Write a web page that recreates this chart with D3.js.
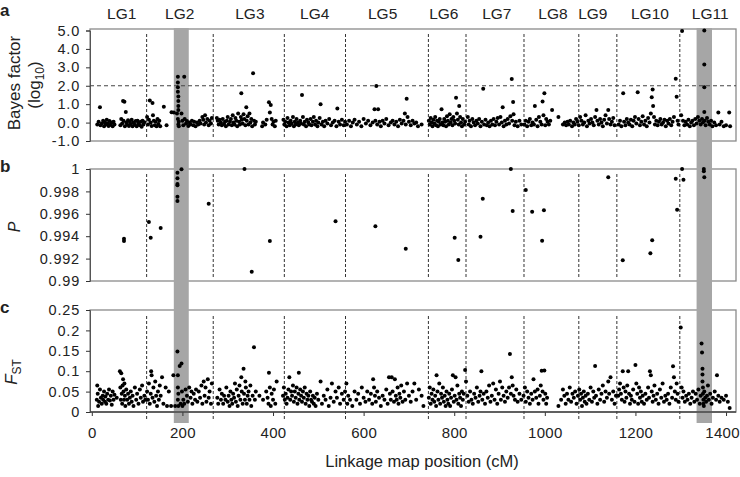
<!DOCTYPE html>
<html>
<head>
<meta charset="utf-8">
<script src="https://cdn.jsdelivr.net/npm/d3@7"></script>
<style>
body { margin: 0; background: #fff; }
text { font-family: "Liberation Sans", Arial, sans-serif; fill: #222; }
</style>
</head>
<body>
<svg width="740" height="477"></svg>
<script>
// linkage groups
const lgNames = ["LG1","LG2","LG3","LG4","LG5","LG6","LG7","LG8","LG9","LG10","LG11"];
const lgLabelPos = [66,194,349,492,642,777,894,1018,1106,1232,1365];
const lgBounds = [121,268,425,560,743,826,954,1075,1159,1298];
const outlierBands = [[181,214],[1335,1369]];

const xTicks = [0,200,400,600,800,1000,1200,1400];
const bayesTicks = [5,4,3,2,1,0,-1];
const pTicks = [1,0.998,0.996,0.994,0.992,0.99];
const fstTicks = [0.25,0.2,0.15,0.1,0.05,0];
const bayesThreshold = 2;

// panel a : Bayes factor (log10), [cM, value]
const bayes = [
[12,-0.1],[15,0.05],[18,0.83],[19,-0.15],[22,-0.05],[25,0.1],[27,-0.2],[29,0.0],[31,-0.1],[33,0.15],[35,-0.05],[37,-0.18],[39,0.08],[41,-0.12],[44,0.0],[46,-0.2],[48,0.05],[50,-0.1],
[63,-0.15],[65,0.2],[67,-0.05],[69,1.17],[70,0.1],[72,1.13],[73,-0.2],[75,0.58],[76,0.0],[78,-0.1],[80,0.12],[82,-0.18],[84,0.05],[86,-0.08],[88,0.15],[90,-0.2],[92,0.0],[95,-0.12],[97,0.08],[99,-0.2],[101,0.1],[103,-0.05],[106,-0.15],[108,0.05],[110,-0.22],[112,0.1],[114,-0.1],[116,0.02],
[122,0.3],[124,-0.1],[126,0.15],[128,1.2],[130,0.0],[132,-0.18],[134,1.06],[135,0.4],[137,0.1],[139,-0.15],[141,0.05],[143,-0.2],[145,0.2],[147,-0.08],[149,0.1],[151,-0.2],[159,0.86],[165,-0.15],[176,0.56],[181,0.55],[188,0.5],
[190,2.49],[190,2.17],[190,1.92],[190,1.68],[191,1.41],[191,1.17],[191,0.9],[191,0.68],[190,0.2],[191,-0.1],[192,0.05],[192,-0.2],[204,2.49],[198,0.5],[200,0.1],[202,-0.15],[205,0.2],[208,-0.05],[210,0.08],[213,-0.18],
[216,0.0],[218,-0.1],[221,0.1],[224,-0.15],[226,0.05],[229,-0.2],[232,0.0],[235,-0.1],[238,0.1],[240,-0.05],[244,0.3],[246,0.15],[248,-0.1],[250,0.4],[252,0.0],[255,0.2],[258,-0.15],[260,0.1],[263,-0.05],[265,0.25],
[276,0.25],[278,0.1],[280,-0.1],[282,0.15],[285,0.0],[287,-0.15],[289,0.2],[292,-0.08],[294,0.05],[296,-0.2],[298,0.1],[300,0.3],[302,-0.1],[305,0.05],[307,0.2],[309,-0.15],[311,0.4],[313,0.0],[315,-0.1],[317,0.25],[319,0.1],[321,-0.2],[323,0.5],[325,0.05],[327,-0.1],[329,0.3],[330,1.59],[331,0.15],[333,-0.05],[335,0.45],[337,0.2],[339,-0.15],[341,0.83],[342,0.1],[344,0.35],[346,-0.1],[348,0.5],[350,0.0],[352,0.2],[354,-0.2],[356,2.68],[358,0.1],[360,-0.1],[362,0.05],
[376,-0.2],[378,0.0],[383,-0.1],[386,0.15],[391,1.1],[393,0.55],[395,0.95],[397,0.2],[399,-0.1],[401,0.05],[404,-0.2],[406,0.1],
[423,0.15],[425,-0.1],[427,0.05],[430,-0.2],[432,0.25],[434,0.0],[437,-0.15],[439,0.1],[441,-0.05],[444,0.3],[446,-0.2],[448,0.05],[450,-0.1],[452,0.2],[455,0.0],[457,-0.15],[460,0.1],[462,-0.05],[464,1.5],[466,0.3],[468,-0.1],[470,0.05],[473,-0.2],[475,0.15],[478,0.0],[480,-0.1],[483,0.2],[485,-0.15],[488,0.05],[490,0.3],[493,-0.1],[495,0.1],[498,-0.2],[500,0.0],[503,0.25],[505,0.99],[507,-0.1],[510,0.05],[513,-0.2],[516,0.1],[520,-0.05],[524,0.2],[528,-0.15],[532,0.0],[536,0.1],[540,-0.2],[542,0.76],[545,0.05],[548,-0.1],[552,0.15],[556,-0.15],[559,0.05],
[563,-0.1],[568,0.1],[572,-0.2],[576,0.0],[580,0.15],[585,-0.1],[590,0.05],[595,-0.2],[600,0.2],[605,-0.05],[610,0.1],[615,-0.15],[620,0.0],[624,0.73],[626,0.1],[628,1.99],[630,-0.1],[632,0.73],[635,0.05],[638,-0.2],[642,0.1],[646,-0.05],[650,0.2],[655,-0.15],[660,0.0],[664,0.1],[668,-0.1],[672,0.05],[676,-0.2],[680,0.15],[684,-0.05],[688,0.1],[691,0.5],[693,-0.1],[695,1.3],[697,0.3],[700,0.05],[704,-0.15],[708,0.1],[712,-0.05],[716,0.0],[720,-0.2],[728,-0.1],
[744,0.1],[746,-0.1],[748,0.25],[750,0.0],[752,-0.2],[754,0.15],[756,-0.05],[758,0.3],[760,-0.15],[762,0.1],[764,-0.2],[766,0.05],[768,0.2],[770,-0.1],[772,0.72],[774,0.0],[776,-0.15],[778,0.2],[780,0.05],[782,-0.2],[784,0.35],[786,0.1],[788,-0.1],[790,0.45],[792,0.0],[794,0.2],[796,-0.15],[798,0.3],[800,0.1],[802,-0.05],[804,1.35],[806,0.5],[808,0.15],[810,-0.1],[811,0.9],[813,0.3],[815,0.0],[817,-0.2],[819,0.2],[822,-0.1],[824,0.05],
[830,0.3],[832,-0.1],[834,0.1],[837,-0.2],[840,0.2],[843,0.0],[846,-0.15],[849,0.1],[852,-0.05],[855,0.2],[858,-0.2],[861,0.05],[864,1.84],[866,-0.1],[869,0.15],[872,-0.15],[875,0.0],[878,-0.2],[881,0.1],[884,-0.1],[887,0.2],[890,-0.15],[893,0.05],[896,0.25],[899,-0.1],[902,0.3],[905,0.0],[907,0.83],[909,-0.2],[912,0.1],[915,-0.1],[918,0.2],[921,-0.05],[924,0.35],[927,2.37],[928,0.1],[930,1.12],[931,0.45],[933,-0.15],[936,0.05],[940,-0.2],[944,0.1],[948,-0.1],
[955,-0.1],[958,0.1],[961,-0.2],[964,0.05],[967,0.2],[970,-0.15],[973,0.0],[976,-0.1],[978,0.9],[981,0.15],[984,-0.2],[987,0.3],[990,0.05],[993,-0.1],[995,1.14],[997,0.4],[999,1.59],[1001,-0.15],[1003,0.2],[1006,0.05],[1009,-0.1],[1012,0.1],[1016,0.68],[1030,0.3],
[1040,-0.1],[1044,0.0],[1047,-0.15],[1050,0.05],[1053,-0.1],[1056,0.1],[1060,-0.2],[1063,0.0],[1066,-0.1],[1069,0.2],[1072,0.05],[1075,-0.15],[1078,0.3],[1081,0.1],[1084,-0.1],[1087,0.0],[1090,0.4],[1093,-0.2],[1096,0.1],[1099,-0.05],[1102,0.2],[1105,0.0],[1108,-0.15],[1111,0.3],[1114,0.68],[1116,0.1],[1119,-0.1],[1122,0.2],[1125,0.0],[1128,-0.2],[1131,0.15],[1134,0.4],[1137,-0.05],[1140,0.68],[1142,0.2],[1145,-0.1],[1148,0.05],[1151,0.25],[1154,-0.15],
[1163,-0.1],[1166,0.1],[1169,-0.2],[1173,1.59],[1175,0.05],[1178,-0.15],[1181,0.2],[1184,0.0],[1187,-0.1],[1190,0.15],[1193,-0.2],[1196,0.1],[1199,0.3],[1202,-0.05],[1205,1.65],[1207,0.2],[1210,-0.15],[1213,0.05],[1216,0.35],[1219,-0.1],[1222,0.1],[1225,-0.2],[1228,0.25],[1231,0.0],[1234,0.5],[1236,1.37],[1238,1.8],[1239,0.9],[1241,0.3],[1243,-0.1],[1246,0.1],[1249,-0.15],[1252,0.05],[1255,0.2],[1258,-0.1],[1261,0.0],[1264,0.15],[1267,-0.2],[1270,0.1],[1273,-0.05],[1276,0.2],[1279,-0.15],[1282,0.05],[1285,0.3],[1289,2.38],[1291,1.4],[1293,0.1],[1295,-0.1],
[1303,4.97],[1301,0.4],[1305,0.1],[1308,-0.15],[1311,0.05],[1314,-0.1],[1317,0.15],[1320,-0.2],[1323,0.0],[1326,0.1],[1329,-0.15],[1332,0.2],[1335,-0.05],[1338,0.3],[1341,0.1],[1344,-0.1],[1347,0.2],[1349,0.0],[1352,5.0],[1352,3.16],[1352,1.92],[1352,0.58],[1353,0.1],[1355,-0.15],[1358,0.25],[1361,0.05],[1364,-0.1],[1367,0.1],[1370,-0.2],[1374,0.0],[1378,-0.15],[1383,0.55],[1386,-0.1],[1390,0.05],[1395,-0.2],[1400,-0.15],[1407,0.55],[1409,-0.2]
];

// panel b : posterior probability P, [cM, value]
const probP = [
[71,0.99378],[71,0.99357],[126,0.99527],[130,0.99387],[152,0.99473],
[189,0.99967],[189,0.99917],[189,0.99866],[189,0.99856],[189,0.99753],[189,0.99714],[198,0.99997],
[258,0.9969],[337,1.0],[353,0.99083],[393,0.99357],[538,0.99533],[626,0.99488],[693,0.99289],
[801,0.99387],[809,0.99188],[858,0.99396],[863,0.99735],[925,1.0],[929,0.99625],[958,0.99812],[972,0.99619],[994,0.9936],[998,0.99631],
[1140,0.99926],[1172,0.99185],[1233,0.99247],[1237,0.99363],[1289,0.99914],[1292,0.99637],[1303,1.0],[1306,0.99905],
[1351,1.0],[1351,0.9998],[1352,0.99926]
];

// panel c : FST, [cM, value]
const fst = [
[11,0.03],[12,0.065],[13,0.045],[14,0.015],[16,0.025],[18,0.055],[20,0.035],[22,0.02],[24,0.04],[25,0.03],[27,0.05],[29,0.025],[30,0.038],[32,0.02],[34,0.045],[36,0.03],[38,0.055],[40,0.028],[42,0.04],[44,0.018],[46,0.05],[48,0.03],[50,0.042],[55,0.035],
[62,0.1],[63,0.06],[64,0.03],[65,0.095],[66,0.045],[67,0.02],[68,0.065],[69,0.08],[70,0.05],[71,0.03],[72,0.07],[73,0.04],[74,0.015],[76,0.055],[78,0.03],[80,0.045],[82,0.02],[84,0.035],[86,0.05],[88,0.025],[90,0.04],[92,0.015],[95,0.06],[98,0.03],[100,0.045],[103,0.02],[106,0.055],[108,0.035],[111,0.065],[113,0.025],[116,0.04],[118,0.03],
[122,0.05],[124,0.03],[126,0.07],[128,0.02],[130,0.045],[131,0.1],[132,0.09],[134,0.035],[136,0.06],[138,0.025],[140,0.075],[142,0.04],[144,0.015],[146,0.05],[148,0.03],[150,0.065],[152,0.04],[155,0.085],[158,0.02],[163,0.06],[166,0.015],[170,0.05],[175,0.015],[180,0.09],[184,0.015],
[189,0.148],[190,0.06],[190,0.09],[190,0.03],[191,0.045],[191,0.015],[194,0.113],[196,0.02],[198,0.119],[199,0.05],[200,0.015],[202,0.03],[204,0.02],[207,0.055],[210,0.04],[212,0.025],[215,0.06],[218,0.035],[220,0.05],[222,0.02],[225,0.045],[228,0.03],[230,0.055],[233,0.025],[236,0.05],[239,0.035],[242,0.065],[244,0.02],[247,0.075],[249,0.04],[251,0.06],[253,0.025],[256,0.08],[258,0.035],[260,0.05],[263,0.02],[265,0.07],
[277,0.035],[279,0.02],[282,0.055],[285,0.03],[287,0.045],[290,0.02],[292,0.04],[295,0.03],[297,0.06],[300,0.025],[302,0.04],[304,0.015],[306,0.05],[308,0.03],[310,0.02],[312,0.045],[314,0.035],[316,0.07],[318,0.025],[320,0.055],[322,0.015],[324,0.04],[326,0.065],[328,0.03],[330,0.085],[331,0.05],[333,0.02],[335,0.106],[336,0.045],[338,0.03],[339,0.075],[340,0.06],[342,0.02],[344,0.04],[346,0.05],[348,0.03],[350,0.065],[352,0.015],[355,0.04],[358,0.159],[360,0.03],[362,0.05],[370,0.04],[378,0.03],[385,0.05],[388,0.035],[390,0.02],[391,0.096],[393,0.06],[395,0.015],[397,0.045],[400,0.03],[402,0.055],[405,0.02],[408,0.075],
[422,0.04],[424,0.06],[426,0.03],[428,0.045],[430,0.02],[432,0.035],[434,0.055],[436,0.085],[438,0.03],[440,0.05],[442,0.04],[444,0.065],[446,0.025],[448,0.05],[450,0.035],[452,0.06],[454,0.02],[456,0.045],[457,0.096],[458,0.03],[460,0.055],[462,0.04],[464,0.025],[466,0.05],[468,0.035],[470,0.06],[472,0.02],[474,0.045],[476,0.03],[478,0.04],[480,0.015],[482,0.05],[484,0.03],[486,0.025],[488,0.04],[490,0.02],[492,0.035],[494,0.015],[497,0.045],[500,0.03],[505,0.075],[508,0.02],[512,0.04],[516,0.03],[520,0.055],[523,0.015],[527,0.035],[530,0.07],[534,0.025],[538,0.05],[541,0.035],[545,0.06],[548,0.02],[552,0.045],[556,0.03],[559,0.05],
[562,0.07],[564,0.02],[566,0.04],[570,0.03],[575,0.015],[580,0.05],[584,0.03],[588,0.045],[592,0.02],[596,0.06],[600,0.035],[604,0.025],[608,0.05],[612,0.03],[616,0.045],[619,0.02],[621,0.08],[623,0.06],[625,0.04],[627,0.025],[630,0.05],[634,0.035],[638,0.015],[642,0.04],[646,0.03],[650,0.055],[653,0.02],[656,0.085],[658,0.045],[660,0.03],[662,0.085],[664,0.05],[667,0.025],[669,0.08],[671,0.04],[673,0.03],[675,0.06],[677,0.02],[679,0.045],[681,0.035],[683,0.065],[686,0.025],[689,0.05],[692,0.03],[696,0.07],[700,0.04],[704,0.025],[708,0.05],[712,0.07],[716,0.03],[722,0.055],[728,0.04],[732,0.015],
[744,0.035],[746,0.06],[748,0.02],[750,0.045],[752,0.03],[754,0.055],[756,0.025],[758,0.04],[760,0.015],[761,0.09],[763,0.05],[765,0.03],[767,0.07],[769,0.02],[771,0.045],[773,0.035],[775,0.06],[777,0.025],[779,0.04],[781,0.015],[783,0.05],[785,0.03],[787,0.02],[789,0.045],[791,0.015],[793,0.035],[795,0.055],[797,0.09],[799,0.025],[801,0.04],[803,0.085],[805,0.03],[807,0.065],[809,0.02],[811,0.045],[813,0.035],[815,0.015],[817,0.05],[819,0.03],[821,0.045],[824,0.103],[826,0.075],
[829,0.04],[832,0.025],[835,0.05],[838,0.03],[841,0.02],[844,0.045],[847,0.035],[850,0.06],[853,0.025],[856,0.04],[858,0.05],[860,0.1],[862,0.03],[865,0.045],[868,0.02],[871,0.05],[874,0.035],[877,0.065],[880,0.025],[883,0.04],[886,0.07],[889,0.03],[892,0.055],[895,0.02],[898,0.045],[901,0.075],[903,0.03],[906,0.06],[909,0.04],[912,0.025],[915,0.05],[918,0.035],[921,0.06],[923,0.142],[925,0.045],[927,0.085],[929,0.065],[931,0.04],[934,0.03],[937,0.055],[940,0.025],[944,0.045],[948,0.03],
[953,0.04],[956,0.06],[958,0.025],[961,0.05],[964,0.035],[967,0.02],[970,0.045],[973,0.03],[975,0.08],[978,0.05],[981,0.035],[984,0.055],[986,0.02],[989,0.04],[991,0.065],[993,0.101],[995,0.05],[997,0.03],[999,0.102],[1001,0.045],[1003,0.02],[1005,0.035],[1030,0.015],[1036,0.03],
[1040,0.055],[1043,0.04],[1046,0.02],[1049,0.045],[1052,0.03],[1055,0.06],[1058,0.025],[1061,0.045],[1064,0.035],[1067,0.05],[1070,0.02],[1073,0.04],[1076,0.055],[1078,0.03],[1080,0.045],[1082,0.015],[1084,0.035],[1086,0.05],[1088,0.025],[1090,0.04],[1092,0.02],[1095,0.045],[1098,0.03],[1101,0.06],[1104,0.025],[1107,0.05],[1109,0.035],[1111,0.113],[1113,0.04],[1116,0.02],[1119,0.055],[1122,0.03],[1125,0.045],[1128,0.065],[1131,0.025],[1134,0.05],[1137,0.035],[1140,0.075],[1142,0.045],[1145,0.085],[1148,0.03],[1151,0.05],[1154,0.02],[1157,0.04],
[1162,0.04],[1164,0.055],[1166,0.07],[1168,0.045],[1170,0.03],[1172,0.1],[1174,0.06],[1176,0.025],[1178,0.05],[1180,0.035],[1182,0.065],[1184,0.1],[1186,0.045],[1188,0.02],[1190,0.04],[1192,0.03],[1195,0.055],[1198,0.025],[1200,0.115],[1202,0.07],[1204,0.045],[1206,0.02],[1208,0.06],[1210,0.035],[1212,0.05],[1214,0.025],[1216,0.04],[1219,0.02],[1222,0.045],[1225,0.03],[1228,0.06],[1230,0.035],[1232,0.1],[1234,0.09],[1236,0.05],[1238,0.025],[1240,0.04],[1242,0.065],[1245,0.03],[1248,0.045],[1251,0.02],[1254,0.055],[1257,0.035],[1260,0.07],[1263,0.025],[1266,0.04],[1269,0.03],[1272,0.045],[1275,0.02],[1278,0.06],[1281,0.035],[1283,0.112],[1285,0.085],[1287,0.05],[1289,0.03],[1291,0.07],[1293,0.045],[1295,0.025],
[1300,0.207],[1302,0.06],[1304,0.035],[1306,0.05],[1309,0.025],[1312,0.04],[1315,0.03],[1318,0.045],[1321,0.02],[1324,0.035],[1327,0.05],[1330,0.025],[1333,0.045],[1336,0.03],[1339,0.055],[1342,0.02],[1344,0.04],[1346,0.168],[1347,0.146],[1348,0.106],[1348,0.092],[1348,0.075],[1349,0.06],[1349,0.045],[1350,0.03],[1350,0.02],[1351,0.015],[1352,0.05],[1354,0.035],[1356,0.025],[1358,0.04],[1360,0.065],[1362,0.03],[1365,0.045],[1368,0.02],[1371,0.035],[1375,0.05],[1378,0.03],[1380,0.09],[1383,0.04],[1386,0.025],[1390,0.035],[1395,0.03],[1400,0.04],[1404,0.025],[1408,0.01]
];

const svg = d3.select("svg");
const x = d3.scaleLinear().domain([-4, 1422]).range([90, 736]);

const panels = [
  {letter: "a", data: bayes, ticks: bayesTicks, fmt: d => d.toFixed(1),
   y: d3.scaleLinear().domain([-1, 5]).range([141, 30.5]), top: 29, bottom: 141, dash: [34, 138]},
  {letter: "b", data: probP, ticks: pTicks, fmt: d => String(d),
   y: d3.scaleLinear().domain([0.99, 1]).range([281, 169]), top: 169, bottom: 281, dash: [174, 277]},
  {letter: "c", data: fst, ticks: fstTicks, fmt: d => String(d),
   y: d3.scaleLinear().domain([0, 0.25]).range([412, 310]), top: 310, bottom: 412, dash: [316, 420]}
];
const letterY = [16, 172, 313];

// frames
panels.forEach((p, i) => {
  svg.append("rect")
    .attr("x", x.range()[0]).attr("y", p.top)
    .attr("width", x.range()[1] - x.range()[0]).attr("height", p.bottom - p.top)
    .attr("fill", "none").attr("stroke", "#8a8a8a").attr("stroke-width", 1.3);
});

// grey bands for outlier regions
svg.append("g").selectAll("rect")
  .data(outlierBands)
  .join("rect")
    .attr("x", d => x(d[0]))
    .attr("width", d => x(d[1]) - x(d[0]))
    .attr("y", 28).attr("height", 423 - 28)
    .attr("fill", "#a6a6a6");

panels.forEach((p, i) => {
  // y axis
  const ax = svg.append("g")
    .attr("transform", `translate(${x.range()[0]},0)`)
    .call(d3.axisLeft(p.y).tickValues(p.ticks).tickFormat(p.fmt).tickSize(4).tickPadding(6));
  ax.select(".domain").attr("stroke", "#555");
  ax.selectAll(".tick line").attr("stroke", "#333");
  ax.selectAll("text")
    .style("font-family", "'Liberation Sans', Arial, sans-serif")
    .style("font-size", "14.5px").style("letter-spacing", "0.8px").attr("fill", "#222");

  // linkage group boundaries
  svg.append("g").selectAll("line")
    .data(lgBounds)
    .join("line")
      .attr("x1", d => x(d)).attr("x2", d => x(d))
      .attr("y1", p.dash[0]).attr("y2", p.dash[1])
      .attr("stroke", "#333").attr("stroke-width", 1)
      .attr("stroke-dasharray", "3,2");

  svg.append("text")
    .attr("x", 0).attr("y", letterY[i])
    .style("font-weight", "bold").style("font-size", "17px")
    .attr("fill", "#000")
    .text(p.letter);
});

// significance threshold in panel a
svg.append("line")
  .attr("x1", x.range()[0]).attr("x2", x.range()[1])
  .attr("y1", panels[0].y(bayesThreshold)).attr("y2", panels[0].y(bayesThreshold))
  .attr("stroke", "#444").attr("stroke-dasharray", "4,3");

// points
panels.forEach(p => {
  svg.append("g").selectAll("circle")
    .data(p.data)
    .join("circle")
      .attr("cx", d => x(d[0]))
      .attr("cy", d => p.y(d[1]))
      .attr("r", 2)
      .attr("fill", "#000");
});

// x axis
const xa = svg.append("g")
  .attr("transform", "translate(0,412)")
  .call(d3.axisBottom(x).tickValues(xTicks).tickFormat(d3.format("d")).tickSize(4).tickPadding(11));
xa.select(".domain").remove();
xa.selectAll(".tick line").attr("stroke", "#333");
xa.selectAll("text")
  .style("font-family", "'Liberation Sans', Arial, sans-serif")
  .style("font-size", "15px").style("letter-spacing", "0.3px").attr("fill", "#222")
  .attr("dx", d => d === 1400 ? -4 : 0);
svg.append("line")
  .attr("x1", x.range()[0]).attr("x2", x.range()[1])
  .attr("y1", 412).attr("y2", 412)
  .attr("stroke", "#444").attr("stroke-width", 1.3);

// LG labels
svg.append("g").selectAll("text")
  .data(lgNames)
  .join("text")
    .attr("x", (d, i) => x(lgLabelPos[i]))
    .attr("y", 19)
    .attr("text-anchor", "middle")
    .style("font-size", "15.5px")
    .text(d => d);

// axis titles
svg.append("text")
  .attr("x", 422).attr("y", 467)
  .attr("text-anchor", "middle")
  .style("font-size", "16.5px")
  .text("Linkage map position (cM)");

svg.append("text")
  .attr("transform", "translate(20,83) rotate(-90)")
  .attr("text-anchor", "middle")
  .style("font-size", "17px")
  .text("Bayes factor");

const lg = svg.append("text")
  .attr("transform", "translate(40,85) rotate(-90)")
  .attr("text-anchor", "middle")
  .style("font-size", "17px");
lg.append("tspan").text("(log");
lg.append("tspan").attr("dy", 4).style("font-size", "12px").text("10");
lg.append("tspan").attr("dy", -4).text(")");

svg.append("text")
  .attr("transform", "translate(20,227) rotate(-90)")
  .attr("text-anchor", "middle")
  .style("font-size", "16px").style("font-style", "italic")
  .text("P");

const fl = svg.append("text")
  .attr("transform", "translate(17,372) rotate(-90)")
  .attr("text-anchor", "middle")
  .style("font-size", "17px");
fl.append("tspan").style("font-style", "italic").text("F");
fl.append("tspan").attr("dy", 4).style("font-size", "12px").text("ST");
</script>
</body>
</html>
